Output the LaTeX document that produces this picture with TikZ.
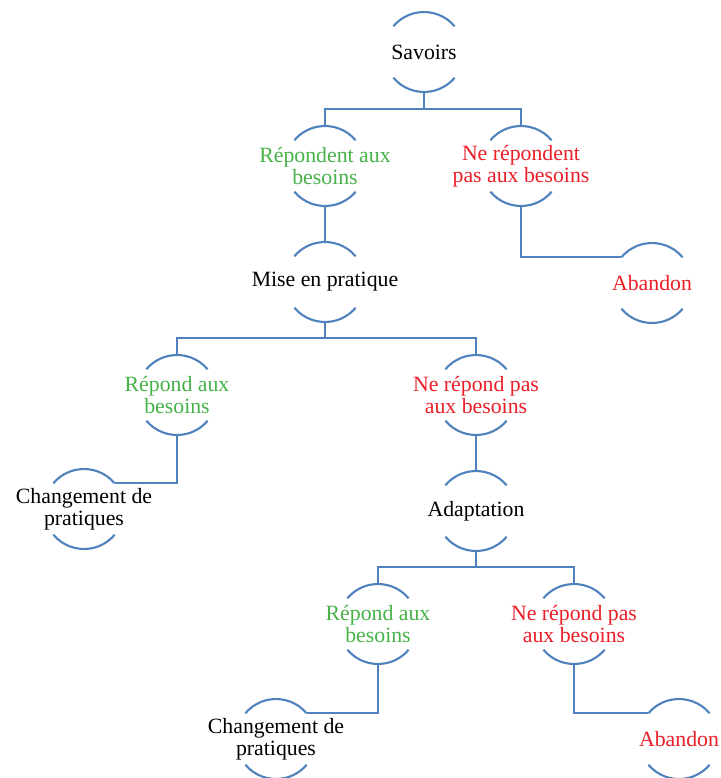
\documentclass[tikz,border=0pt]{standalone}
\usepackage{fontspec}
\setmainfont{Liberation Serif}
\usetikzlibrary{calc}
\definecolor{line_blue}{RGB}{79,129,189}
\definecolor{yes_green}{RGB}{70,178,72}
\definecolor{no_red}{RGB}{236,30,40}
\tikzset{
        treenode/.style={align=center,inner sep=0pt,font=\fontsize{15.5}{15.6}\selectfont},
        % Nodes that meet the needs
        node_yes/.style={treenode, text=yes_green},
        % Nodes that do not meet the needs
        node_no/.style={treenode, text=no_red},
        % Plain nodes
        node_plain/.style={treenode, text=black},
        % Lines of the tree
        tree_line/.style={draw=line_blue, line width=1.5pt}
}
\begin{document}
\begin{tikzpicture}
            \useasboundingbox (0,0) rectangle (18,-19.45);
            \node[node_plain] (sav) at (10.6,-1.3) {Savoirs};
            \node[node_yes] (r1) at (8.125,-4.15) {Répondent aux\\besoins};
            \node[node_no] (n1) at (13.025,-4.15) {Ne répondent\\pas aux besoins};
            \node[node_plain] (mise) at (8.125,-7.05) {Mise en pratique};
            \node[node_no] (ab1) at (16.3,-7.075) {Abandon};
            \node[node_yes] (r2) at (4.425,-9.875) {Répond aux\\besoins};
            \node[node_no] (n2) at (11.9,-9.875) {Ne répond pas\\aux besoins};
            \node[node_plain] (ch1) at (2.1,-12.725) {Changement de\\pratiques};
            \node[node_plain] (adap) at (11.9,-12.775) {Adaptation};
            \node[node_yes] (r3) at (9.45,-15.6) {Répond aux\\besoins};
            \node[node_no] (n3) at (14.35,-15.6) {Ne répond pas\\aux besoins};
            \node[node_plain] (ch2) at (6.9,-18.475) {Changement de\\pratiques};
            \node[node_no] (ab2) at (16.975,-18.475) {Abandon};
            % arcs round every node
            \foreach \n in {sav,r1,n1,mise,ab1,r2,n2,ch1,adap,r3,n3,ch2,ab2}{
                \draw[tree_line] ([shift={(40:1)}]\n.center) arc (40:140:1);
                \draw[tree_line] ([shift={(220:1)}]\n.center) arc (220:320:1);
            }
            % branchings
            \coordinate (bar1) at ($(r1.center)+(0,1.43)$);
            \draw[tree_line] ([yshift=1cm]r1.center) -- (bar1) -| ([yshift=1cm]n1.center);
            \draw[tree_line] ([yshift=-1cm]sav.center) -- (sav |- bar1);
            \coordinate (bar2) at ($(r2.center)+(0,1.42)$);
            \draw[tree_line] ([yshift=1cm]r2.center) -- (bar2) -| ([yshift=1cm]n2.center);
            \draw[tree_line] ([yshift=-1cm]mise.center) -- (mise |- bar2);
            \coordinate (bar3) at ($(r3.center)+(0,1.42)$);
            \draw[tree_line] ([yshift=1cm]r3.center) -- (bar3) -| ([yshift=1cm]n3.center);
            \draw[tree_line] ([yshift=-1cm]adap.center) -- (adap |- bar3);
            % straight links
            \draw[tree_line] ([yshift=-1cm]r1.center) -- ([yshift=1cm]mise.center);
            \draw[tree_line] ([yshift=-1cm]n2.center) -- ([yshift=1cm]adap.center);
            % elbow links
            \draw[tree_line] ([yshift=-1cm]n1.center) |- ([shift={(140:1)}]ab1.center);
            \draw[tree_line] ([yshift=-1cm]r2.center) |- ([shift={(40:1)}]ch1.center);
            \draw[tree_line] ([yshift=-1cm]r3.center) |- ([shift={(40:1)}]ch2.center);
            \draw[tree_line] ([yshift=-1cm]n3.center) |- ([shift={(140:1)}]ab2.center);
\end{tikzpicture}
\end{document}
